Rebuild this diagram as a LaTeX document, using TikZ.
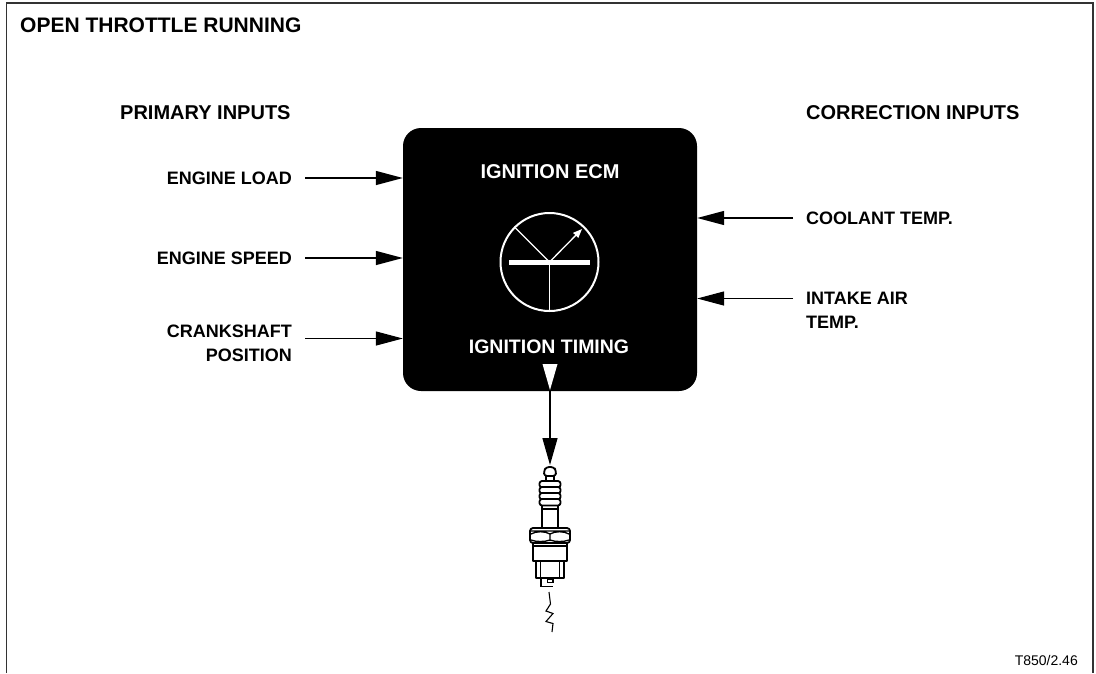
\documentclass[tikz,border=0pt]{standalone}
\usepackage{fontspec}
\setmainfont{Liberation Sans}
\usetikzlibrary{arrows.meta}
\begin{document}
\begin{tikzpicture}[x=1pt,y=-1pt,
  lbl/.style={inner sep=0pt,font=\bfseries\fontsize{18}{24}\selectfont},
  head/.style={inner sep=0pt,font=\bfseries\fontsize{20}{24}\selectfont},
  inarrow/.style={line width=1.3pt,-{Triangle[length=27pt,width=14pt]}},
  plug/.style={line width=1.8pt,fill=white,line join=round},
  dialline/.style={white,line width=1.3pt}]
\useasboundingbox (0,0) rectangle (1096,673);
% open frame
\draw[line width=1.8pt,black!80] (6.5,673) -- (6.5,3) -- (1093,3) -- (1093,673);

% headings
\node[anchor=west,inner sep=0pt,font=\bfseries\fontsize{21}{24}\selectfont] (title) at (20,25) {OPEN THROTTLE RUNNING};
\node[head,anchor=west] (prim) at (120,113) {PRIMARY INPUTS};
\node[head,anchor=west] (corr) at (806,113) {CORRECTION INPUTS};

% control unit
\node[fill=black,rounded corners=18pt,minimum width=294pt,minimum height=263pt,inner sep=0pt] (ecm) at (550,259.5) {};
\node[inner sep=0pt,text=white,font=\bfseries\fontsize{20}{24}\selectfont] (ecmname) at (550,172) {IGNITION ECM};
\node[inner sep=0pt,text=white,font=\bfseries\fontsize{19.5}{24}\selectfont] (timing) at (549,347) {IGNITION TIMING};

% timing dial
\node[draw=white,line width=2pt,circle,minimum size=98pt,inner sep=0pt] (dial) at (549.5,262) {};
\coordinate (hub) at (549.5,262);
\draw[dialline] (hub) -- (dial.135);
\draw[dialline] (hub) -- (dial.south);
\draw[dialline,-{Triangle[length=9pt,width=7pt]}] (hub) -- (582,229);
\fill[white] (509,259.5) rectangle (590,264.5);

% primary inputs
\node[lbl,anchor=east] (load) at (292,178) {ENGINE LOAD};
\node[lbl,anchor=east] (speed) at (292,258) {ENGINE SPEED};
\node[lbl,anchor=east,align=right] (crank) at (292,343) {CRANKSHAFT\\POSITION};
\coordinate (crankin) at (292,338.5);
\draw[inarrow] ([xshift=13pt]load.east) -- (load.east -| ecm.west);
\draw[inarrow] ([xshift=13pt]speed.east) -- (speed.east -| ecm.west);
\draw[inarrow] ([xshift=13pt]crankin) -- (crankin -| ecm.west);

% correction inputs
\node[lbl,anchor=west] (cool) at (806,218) {COOLANT TEMP.};
\node[lbl,anchor=west,align=left] (air) at (806,310) {INTAKE AIR\\TEMP.};
\coordinate (airin) at (806,298.5);
\draw[inarrow] ([xshift=-13pt]cool.west) -- (cool.west -| ecm.east);
\draw[inarrow] ([xshift=-13pt]airin) -- (airin -| ecm.east);

% output marker and lead to the plug
\fill[white] (542.5,364) -- (557.5,364) -- (550,390) -- cycle;
\coordinate (out) at (550,390);
\coordinate (plugtop) at (550,465);
\draw[line width=1.3pt,-{Triangle[length=27pt,width=15pt]}] (out) -- (plugtop);

% spark plug
\draw[plug] (546,476) rectangle (554,482);
\draw[plug,rounded corners=3pt] (544,476) -- (544,471) -- (546,467) -- (554,467) -- (556,471) -- (556,476) -- cycle;
\draw[plug] (542,504) rectangle (558,529);
\draw[line width=1.3pt] (542,509) -- (558,509);
\foreach \i in {0,1,2,3}
  \draw[plug,rounded corners=2.5pt] (539.5,{481+6*\i}) rectangle (560.5,{487.5+6*\i});
\draw[plug] (536,560) rectangle (564,578);
\draw[line width=1.3pt] (540.5,561) -- (540.5,577) (559.5,561) -- (559.5,577);
\draw[plug] (533,542) rectangle (567,561);
\draw[line width=1.3pt] (533,546) -- (567,546);
\draw[plug,rounded corners=3pt] (530,528) rectangle (570,543);
\draw[line width=1.3pt] (531,531) -- (569,531)
  (531,534) .. controls (536,531) and (545,531) .. (550,534) .. controls (555,531) and (564,531) .. (569,534)
  (550,534) -- (550,541)
  (531,540) .. controls (536,542) and (545,542) .. (550,540) .. controls (555,542) and (564,542) .. (569,540);
\draw[line width=1.8pt] (541,578) -- (541,586.5) -- (553,586.5);
\draw[line width=1.4pt,fill=white] (547.5,579) rectangle (553,582.5);

% spark
\draw[line width=1.1pt,line join=miter] (549,592) -- (550.5,604) -- (546,611) -- (553,613.5) -- (546,621.5) -- (553,623.5) -- (552,632);

% reference number
\node[anchor=east,inner sep=0pt,font=\fontsize{14}{16}\selectfont] (ref) at (1078,660) {T850/2.46};
\end{tikzpicture}
\end{document}
